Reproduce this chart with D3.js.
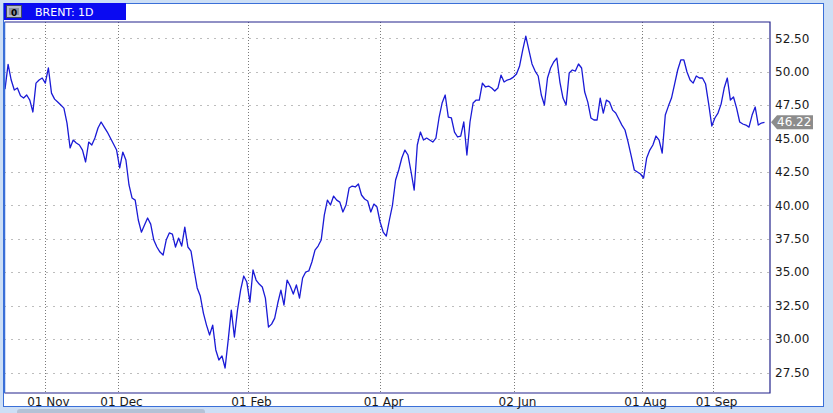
<!DOCTYPE html>
<html><head><meta charset="utf-8">
<script src="https://cdn.jsdelivr.net/npm/d3@7/dist/d3.min.js"></script>
<style>body{margin:0;background:#cddff6;}svg{display:block;font-family:"DejaVu Sans",Verdana,sans-serif;}</style>
</head><body>
<svg id="c" width="833" height="413"></svg>
<script>
const title = "BRENT: 1D";
const closes = [
48.70,50.55,49.38,48.63,48.78,48.20,48.03,48.26,47.88,46.99,
49.15,49.38,49.53,49.15,50.28,48.40,47.95,47.73,47.51,47.28,
46.16,44.30,44.89,44.67,44.52,44.14,43.25,44.74,44.52,45.04,
45.79,46.24,45.86,45.49,45.04,44.60,44.14,42.80,43.99,43.40,
41.53,40.55,40.40,38.91,38.00,38.53,39.06,38.60,37.41,36.89,
36.51,36.29,37.41,37.94,37.86,36.89,37.56,36.96,38.38,36.89,
36.58,35.17,33.83,33.22,31.95,31.05,30.31,31.05,29.19,28.44,
28.74,27.84,29.93,32.17,30.16,32.17,33.67,34.72,34.27,32.77,
35.17,34.42,34.12,33.90,33.07,30.90,31.12,31.57,32.70,33.67,
32.55,34.42,33.97,33.37,34.05,33.07,34.57,35.02,35.10,35.77,
36.66,36.96,37.41,39.28,40.40,40.03,40.70,40.40,40.25,39.51,
40.03,41.30,41.45,41.38,41.60,40.78,40.48,40.33,39.51,40.10,
39.88,38.76,38.01,37.71,38.91,40.03,41.90,42.65,43.55,44.14,
43.77,42.50,41.15,44.52,45.49,44.89,45.04,44.89,44.74,45.04,
46.54,47.66,48.26,46.61,46.54,45.49,45.12,45.19,46.24,43.77,
46.24,47.66,47.88,47.88,49.15,48.86,48.93,48.78,48.56,48.78,
49.75,49.23,49.38,49.45,49.60,49.83,50.43,51.62,52.67,51.62,
50.58,50.05,49.68,48.26,47.51,49.53,50.28,50.73,51.02,49.23,
48.03,47.51,49.90,50.13,50.05,50.58,50.28,48.48,47.73,46.54,
46.39,46.39,48.03,46.91,47.88,47.73,47.13,46.91,46.46,46.01,
45.64,44.74,43.70,42.65,42.50,42.35,42.05,43.55,44.14,44.52,
45.19,44.89,43.92,46.76,47.43,48.03,49.08,50.13,50.88,50.88,
49.98,49.38,49.15,49.68,49.53,49.53,49.08,47.58,45.94,46.54,
46.91,47.58,48.78,49.53,47.88,48.11,47.28,46.24,46.09,46.01,
45.86,46.76,47.36,46.01,46.16,46.22
];
const tickLabels = ["01 Nov","01 Dec","01 Feb","01 Apr","02 Jun","01 Aug","01 Sep"];
const tickBars = [12.9, 36.45, 78.4, 121, 164.2, 205.5, 228.4];
const yTicks = [27.5,30,32.5,35,37.5,40,42.5,45,47.5,50,52.5];
const lastPrice = 46.22;

const svg = d3.select("#c");
const L = 4.5, R = 770, T = 22, B = 393;
const x = d3.scaleLinear().domain([0, 245]).range([5, 764.5]);
const y = d3.scaleLinear().domain([25.97, 53.72]).range([B, T]);

// window
svg.append("rect").attr("x",0).attr("y",0).attr("width",833).attr("height",413).attr("fill","#cddff6");
svg.append("rect").attr("x",17).attr("y",409).attr("width",188).attr("height",6).attr("rx",3).attr("fill","#b4c2d6");
svg.append("rect").attr("x",3.5).attr("y",3.5).attr("width",820).attr("height",403).attr("fill","#fff").attr("stroke","#3a6fd8").attr("stroke-width",1);

// title bar
svg.append("rect").attr("x",4).attr("y",3).attr("width",122).attr("height",17).attr("fill","#0a0af2");
svg.append("rect").attr("x",6.5).attr("y",5.5).attr("width",15).attr("height",12).attr("fill","#b8bcc8").attr("stroke","#404a60");
svg.append("rect").attr("x",9).attr("y",8).attr("width",10).attr("height",7).attr("fill","#8a90a0");
svg.append("text").attr("x",11).attr("y",15.5).attr("font-size",9).attr("font-weight","bold").attr("fill","#000").text("0");
svg.append("text").attr("x",35).attr("y",16).attr("font-size",11).attr("fill","#fff").text(title);

// grid
const g = svg.append("g");
g.selectAll(".hg").data(yTicks).join("line")
  .attr("x1",L).attr("x2",R).attr("y1",d=>Math.round(y(d))+0.5).attr("y2",d=>Math.round(y(d))+0.5)
  .attr("stroke","#7a7a7a").attr("stroke-width",1).attr("stroke-dasharray","1,6");
g.selectAll(".vg").data(tickBars).join("line")
  .attr("x1",d=>Math.round(x(d))+0.5).attr("x2",d=>Math.round(x(d))+0.5).attr("y1",T).attr("y2",B)
  .attr("stroke","#7a7a7a").attr("stroke-width",1).attr("stroke-dasharray","1,2");

// price line
const line = d3.line().x((d,i)=>x(i)).y(d=>y(d));
svg.append("path").datum(closes).attr("d",line).attr("fill","none")
  .attr("stroke","#1a1ad6").attr("stroke-width",1.3).attr("stroke-linejoin","round");

// frame
svg.append("path").attr("d",`M${L},${T}H${R}V${B}H${L}`).attr("fill","none").attr("stroke","#23238c").attr("stroke-width",1.2);
svg.append("line").attr("x1",L).attr("x2",L).attr("y1",T).attr("y2",B).attr("stroke","#3a6fd8").attr("stroke-width",1.5);

// y labels
svg.selectAll(".yl").data(yTicks).join("text")
  .attr("x",775).attr("y",d=>y(d)).attr("dy","0.35em").attr("font-size",12).attr("fill","#1a1a1a")
  .text(d=>d3.format(".2f")(d));

// last price tag
const ly = y(lastPrice);
svg.append("path").attr("d",`M771,${ly} L777,${ly-7} H813 V${ly+7} H777 Z`).attr("fill","#8c8c8c");
svg.append("text").attr("x",777).attr("y",ly).attr("dy","0.35em").attr("font-size",12).attr("fill","#fff").text(d3.format(".2f")(lastPrice));

// x labels
svg.selectAll(".xl").data(tickBars).join("text")
  .attr("x",d=>x(d)+3.5).attr("y",402).attr("dy","0.35em").attr("text-anchor","middle")
  .attr("font-size",12).attr("fill","#1a1a1a").text((d,i)=>tickLabels[i]);
</script>
</body></html>
